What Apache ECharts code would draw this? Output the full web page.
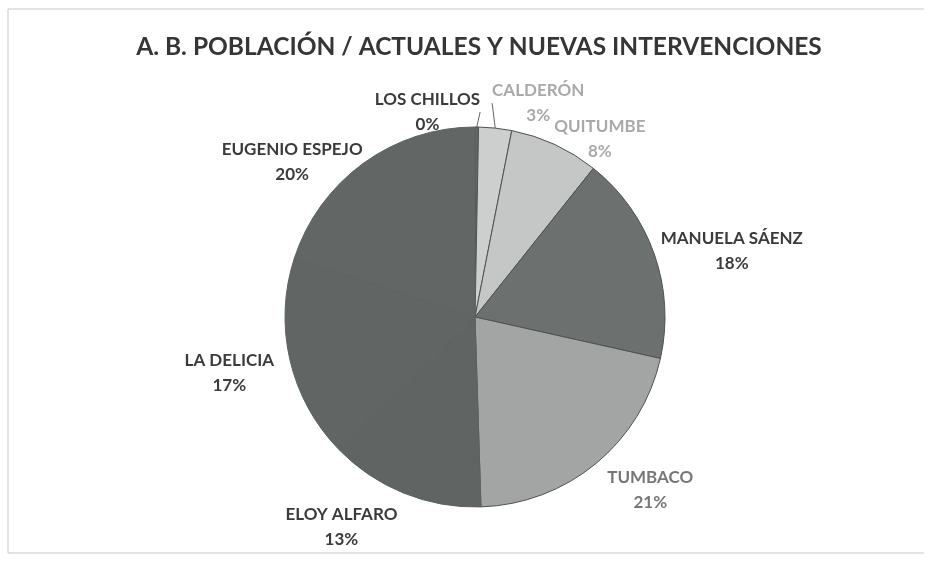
<!DOCTYPE html>
<html>
<head>
<meta charset="utf-8">
<script src="https://cdn.jsdelivr.net/npm/echarts@6/dist/echarts.min.js"></script>
<style>
html,body{margin:0;padding:0;background:#fff;}
#main{width:930px;height:562px;}
</style>
</head>
<body>
<div id="main"></div>
<script>
const title = 'A. B. POBLACIÓN / ACTUALES Y NUEVAS INTERVENCIONES';
const categories = ['LOS CHILLOS','CALDERÓN','QUITUMBE','MANUELA SÁENZ','TUMBACO','ELOY ALFARO','LA DELICIA','EUGENIO ESPEJO'];
const values = [0.3, 2.8, 7.6, 17.8, 21.0, 13.3, 17.2, 20.0];

// styling (not data)
const sliceColors = ['#646866','#cdcfce','#c5c7c6','#6c706e','#a3a5a4','#606462','#616564','#626665'];
const borderColors = ['#4a4e4c','#4e5250','#4e5250','#4e5250','#4e5250','#5d615f','#5e6261','#5f6362'];
const labelColors = ['#3b3b3b','#a8aaa9','#a8aaa9','#3b3b3b','#757776','#3b3b3b','#3b3b3b','#3b3b3b'];
const labelShift = [[-107,-7],[-9,-17],[-9,2],[-6,0],[1,20],[2,27],[-3,12],[9,5]];
const showLeader = [true, true, false, false, false, false, false, false];
const FONT = 'Lato, "Open Sans", sans-serif';

const chart = echarts.init(document.getElementById('main'));
chart.setOption({
  backgroundColor: '#ffffff',
  animation: false,
  title: {
    text: title,
    left: 474,
    textAlign: 'center',
    top: 30,
    textStyle: {fontFamily: FONT, fontWeight: 'bold', fontSize: 24.5, color: '#363636'}
  },
  graphic: [{
    type: 'polyline',
    shape: {points: [[924, 9], [8, 9], [8, 553], [924, 553]]},
    style: {stroke: '#c8c8c8', lineWidth: 1, fill: null}
  }],
  series: [{
    type: 'pie',
    center: [475, 317],
    radius: 190,
    startAngle: 90,
    clockwise: true,
    avoidLabelOverlap: false,
    minShowLabelAngle: 0,
    itemStyle: {borderWidth: 1},
    label: {
      show: true,
      position: 'outside',
      formatter: '{b}\n{d}%',
      fontFamily: FONT,
      fontWeight: 'bold',
      fontSize: 17,
      lineHeight: 25
    },
    labelLine: {show: false, length: 8, length2: 0, lineStyle: {color: '#666', width: 1}},
    labelLayout: function (p) {
      const r = p.labelRect;
      const s = labelShift[p.dataIndex];
      return {
        x: r.x + r.width / 2 + s[0],
        y: r.y + r.height / 2 + s[1],
        align: 'center',
        verticalAlign: 'middle',
        hideOverlap: false
      };
    },
    percentPrecision: 0,
    data: categories.map((c, i) => ({
      name: c,
      value: values[i],
      itemStyle: {color: sliceColors[i], borderColor: borderColors[i]},
      label: {color: labelColors[i]},
      labelLine: {show: showLeader[i]}
    }))
  }]
});
</script>
</body>
</html>
